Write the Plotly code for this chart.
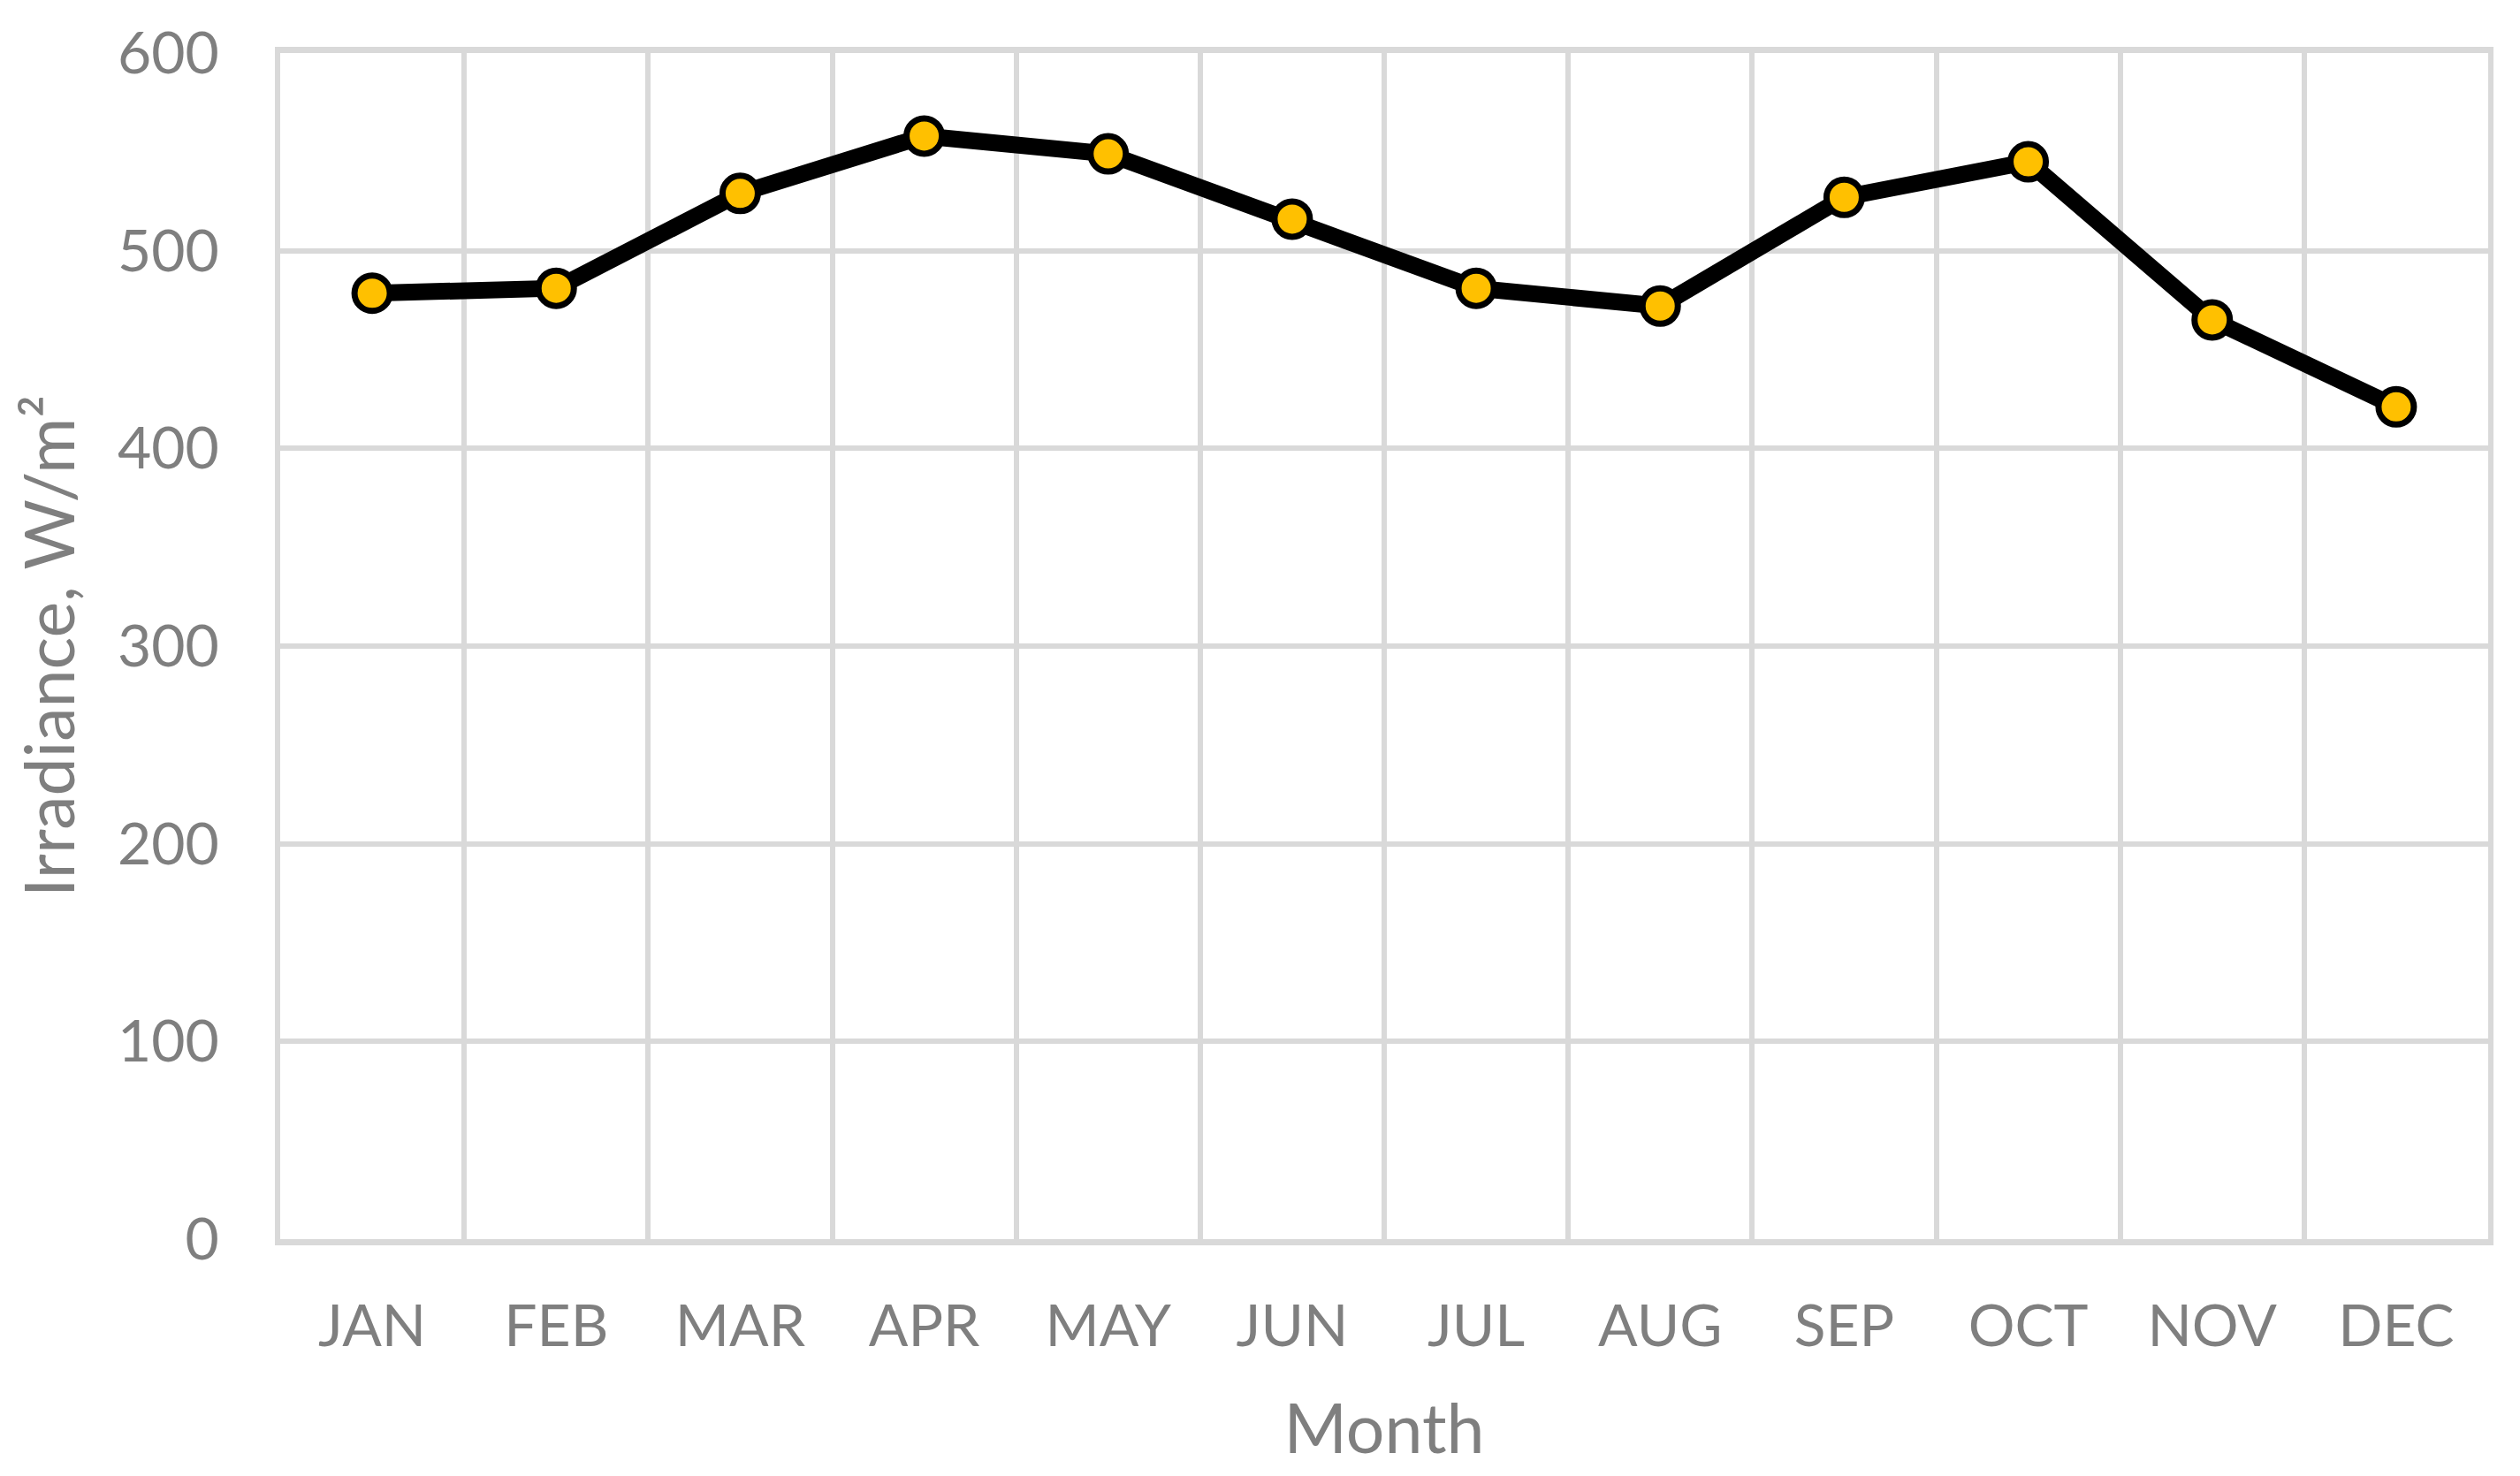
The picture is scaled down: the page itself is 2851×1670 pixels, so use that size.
import plotly.graph_objects as go

months = ["JAN", "FEB", "MAR", "APR", "MAY", "JUN", "JUL", "AUG", "SEP", "OCT", "NOV", "DEC"]
irradiance = [478.5, 481, 529, 558, 549, 516, 481, 472, 527, 545, 465, 421]
y_ticks = [0, 100, 200, 300, 400, 500, 600]

GRID = "#D9D9D9"
TXT = "#7F7F7F"
FONT = "Lato"

fig = go.Figure()
fig.add_trace(go.Scatter(
    x=months, y=irradiance, mode="lines+markers",
    line=dict(color="#000000", width=19),
    marker=dict(size=40, color="#FFC000", line=dict(color="#000000", width=7)),
    showlegend=False,
))

# page body has an 8px default margin, so the figure is 16px smaller
fig.update_layout(
    width=2835, height=1654,
    margin=dict(l=309, r=28, t=52, b=260, autoexpand=False),
    paper_bgcolor="white", plot_bgcolor="white",
    font=dict(family=FONT, color=TXT, size=66),
)
fig.update_xaxes(
    type="category", range=[-0.5, 11.5], tickson="boundaries",
    showgrid=True, gridcolor=GRID, gridwidth=6,
    showline=True, linecolor=GRID, linewidth=7, mirror=True,
    ticks="", ticklabelstandoff=35, automargin=False,
    tickfont=dict(size=66, color=TXT, family=FONT),
    title=dict(text="Month", font=dict(size=77, color=TXT, family=FONT), standoff=56),
)
fig.update_yaxes(
    range=[0, 600], tickvals=y_ticks,
    showgrid=True, gridcolor=GRID, gridwidth=6,
    showline=True, linecolor=GRID, linewidth=6, mirror=True,
    zeroline=False, ticks="", ticklabelstandoff=50, automargin=False,
    tickfont=dict(size=66, color=TXT, family=FONT),
    title=dict(text="Irradiance, W/m²", font=dict(size=77, color=TXT, family=FONT), standoff=31),
)

fig.write_html("out.html")
